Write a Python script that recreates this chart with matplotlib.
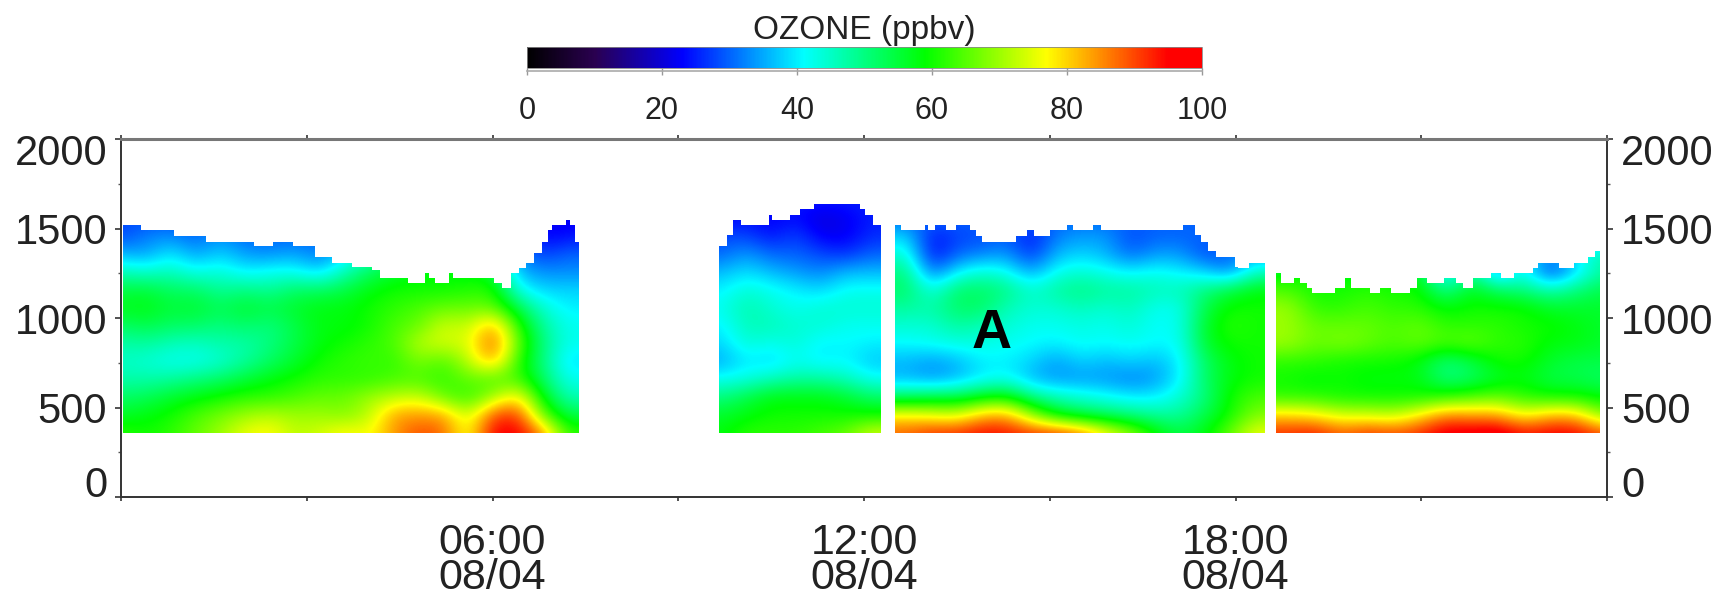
import numpy as np
import matplotlib
matplotlib.use("Agg")
import matplotlib.pyplot as plt
from matplotlib.colors import LinearSegmentedColormap, Normalize
from matplotlib.cm import ScalarMappable
from matplotlib.patches import Polygon
from matplotlib.lines import Line2D
from matplotlib.transforms import ScaledTranslation

plt.rcParams['font.family'] = ['Liberation Sans', 'DejaVu Sans']

BASE_ALT = 355
ROW_LOW = 310
ROW_HIGH = 1710

# each block: rows go 1660 m (top) down to 360 m in 100 m steps
seg1_start, seg1_step = 0.0, 0.4
seg1_edges = [0.03, 0.33, 0.70, 0.86, 1.37, 2.14, 2.45, 2.77, 3.13, 3.41, 3.73, 4.05, 4.18, 4.63, 4.91, 4.98,
              5.07, 5.30, 5.36, 6.03, 6.16, 6.30, 6.42, 6.54, 6.67, 6.80, 6.90, 6.96, 7.18, 7.25, 7.34, 7.40]
seg1_tops = [1520, 1493, 1493, 1460, 1427, 1400, 1427, 1400, 1343, 1310, 1287, 1269, 1222, 1194, 1250,
             1222, 1194, 1250, 1222, 1194, 1166, 1250, 1278, 1310, 1362, 1427, 1493, 1520, 1549, 1520, 1427]
seg1_ozone = [
    [30, 30, 30, 30, 30, 30, 30, 30, 30, 30, 30, 30, 30, 30, 30, 30, 30, 24, 24],
    [28, 28, 28, 28, 28, 28, 28, 28, 28, 28, 28, 28, 28, 28, 28, 28, 28, 22, 22],
    [28, 32, 33, 30, 34, 30, 30, 30, 30, 35, 40, 45, 50, 52, 50, 45, 30, 22, 24],
    [36, 34, 40, 34, 38, 34, 33, 35, 31, 38, 45, 50, 54, 56, 56, 50, 32, 27, 30],
    [46, 44, 46, 42, 44, 40, 42, 42, 38, 46, 52, 56, 58, 58, 58, 56, 36, 33, 33],
    [54, 55, 52, 52, 48, 50, 48, 52, 52, 54, 58, 60, 60, 60, 61, 62, 42, 38, 38],
    [57, 58, 55, 56, 53, 56, 54, 56, 58, 58, 60, 62, 64, 66, 66, 66, 54, 44, 40],
    [52, 54, 52, 52, 50, 52, 50, 54, 58, 58, 60, 64, 66, 74, 72, 84, 62, 48, 42],
    [47, 48, 46, 45, 47, 47, 50, 54, 58, 60, 62, 64, 72, 74, 74, 90, 66, 50, 42],
    [45, 44, 42, 42, 44, 48, 52, 56, 60, 62, 63, 62, 68, 64, 72, 84, 62, 50, 39],
    [47, 47, 48, 50, 52, 55, 58, 60, 62, 62, 62, 64, 64, 62, 66, 64, 64, 52, 42],
    [52, 53, 56, 58, 60, 62, 62, 64, 66, 66, 70, 72, 74, 66, 62, 70, 80, 58, 46],
    [56, 58, 60, 64, 67, 70, 72, 70, 70, 68, 72, 84, 84, 84, 72, 90, 92, 66, 54],
    [62, 60, 62, 66, 70, 76, 78, 72, 74, 78, 76, 84, 90, 88, 74, 96, 96, 86, 62],
]

seg2_start, seg2_step = 9.7, 0.4
seg2_edges = [9.66, 9.79, 9.88, 10.01, 10.46, 10.52, 10.81, 10.97, 11.19, 11.93, 12.02, 12.15, 12.28]
seg2_tops = [1400, 1465, 1549, 1520, 1577, 1549, 1577, 1608, 1638, 1608, 1577, 1520]
seg2_ozone = [
    [25, 25, 25, 25, 25, 25, 25],
    [22, 24, 22, 24, 20, 22, 25],
    [28, 28, 24, 28, 22, 22, 26],
    [30, 34, 30, 30, 28, 26, 30],
    [36, 39, 36, 34, 32, 36, 36],
    [40, 44, 42, 40, 38, 42, 42],
    [42, 47, 44, 42, 44, 44, 44],
    [40, 46, 46, 44, 44, 42, 42],
    [38, 44, 42, 44, 40, 41, 40],
    [35, 40, 38, 42, 40, 41, 37],
    [42, 43, 46, 48, 48, 46, 42],
    [50, 54, 58, 58, 58, 56, 52],
    [56, 58, 60, 60, 60, 60, 60],
    [58, 62, 62, 62, 64, 66, 74],
]

seg3_start, seg3_step = 12.7, 0.4
seg3_edges = [12.50, 12.60, 12.98, 13.04, 13.14, 13.33, 13.49, 13.71, 13.81, 13.91, 14.45, 14.64, 14.74, 14.80,
              15.00, 15.28, 15.37, 15.70, 15.82, 17.16, 17.34, 17.45, 17.56, 17.68, 17.99, 18.04, 18.21, 18.48]
seg3_tops = [1520, 1493, 1520, 1493, 1520, 1493, 1520, 1493, 1460, 1427, 1460, 1493, 1460, 1460, 1493,
             1520, 1493, 1520, 1493, 1520, 1465, 1427, 1372, 1343, 1287, 1278, 1310]
seg3_ozone = [
    [30, 30, 30, 30, 30, 30, 30, 30, 30, 30, 30, 30, 30, 30, 30],
    [30, 30, 30, 30, 30, 30, 30, 30, 30, 30, 30, 30, 30, 30, 30],
    [38, 24, 28, 28, 30, 24, 32, 34, 34, 28, 30, 30, 30, 30, 30],
    [44, 23, 30, 32, 34, 26, 36, 38, 36, 30, 34, 34, 28, 30, 34],
    [50, 30, 40, 44, 42, 34, 42, 44, 42, 40, 42, 40, 38, 32, 45],
    [52, 42, 52, 52, 50, 44, 48, 50, 48, 48, 46, 46, 50, 54, 58],
    [48, 47, 52, 52, 46, 44, 44, 46, 44, 46, 42, 42, 54, 60, 60],
    [44, 44, 48, 46, 44, 42, 42, 43, 42, 44, 41, 42, 56, 62, 60],
    [41, 42, 43, 43, 42, 41, 40, 42, 41, 42, 41, 41, 56, 60, 60],
    [36, 34, 36, 40, 40, 38, 34, 38, 36, 38, 36, 40, 52, 58, 60],
    [36, 34, 36, 40, 42, 36, 34, 34, 34, 32, 34, 40, 52, 58, 60],
    [52, 54, 54, 58, 60, 50, 46, 44, 42, 40, 40, 44, 50, 60, 64],
    [78, 76, 74, 82, 84, 70, 58, 54, 52, 50, 48, 48, 54, 60, 68],
    [88, 92, 92, 95, 94, 92, 92, 88, 78, 70, 60, 54, 58, 66, 76],
]

seg4_start, seg4_step = 18.86, 0.42
seg4_edges = [18.65, 18.74, 18.95, 19.04, 19.15, 19.23, 19.60, 19.77, 19.86, 20.17, 20.34, 20.51, 20.82, 20.93,
              21.10, 21.36, 21.56, 21.67, 21.84, 22.12, 22.29, 22.49, 22.80, 22.89, 23.03, 23.23, 23.46, 23.70,
              23.80, 23.89]
seg4_tops = [1250, 1194, 1222, 1194, 1166, 1138, 1166, 1222, 1166, 1138, 1166, 1138, 1166, 1222, 1194,
             1222, 1194, 1166, 1222, 1250, 1222, 1250, 1278, 1310, 1310, 1278, 1310, 1343, 1372]
seg4_ozone = [
    [30, 30, 30, 30, 30, 30, 30, 30, 30, 30, 30, 30, 30],
    [30, 30, 30, 30, 30, 30, 30, 30, 30, 30, 30, 30, 30],
    [30, 30, 30, 30, 30, 30, 30, 30, 30, 30, 30, 30, 30],
    [42, 42, 42, 42, 42, 42, 42, 42, 40, 42, 32, 40, 48],
    [58, 60, 58, 58, 58, 58, 34, 52, 30, 45, 26, 38, 48],
    [64, 60, 60, 62, 60, 60, 48, 58, 52, 50, 46, 50, 54],
    [70, 62, 62, 64, 62, 62, 58, 60, 60, 60, 56, 56, 56],
    [70, 66, 66, 66, 64, 66, 62, 62, 62, 60, 60, 58, 56],
    [70, 66, 68, 66, 64, 66, 64, 66, 62, 62, 58, 58, 56],
    [62, 62, 60, 60, 60, 58, 50, 54, 60, 60, 56, 54, 54],
    [60, 58, 60, 58, 58, 58, 50, 52, 56, 58, 54, 54, 52],
    [62, 62, 60, 60, 60, 60, 62, 64, 66, 62, 60, 60, 58],
    [80, 78, 74, 74, 72, 78, 86, 84, 84, 76, 82, 82, 68],
    [92, 94, 88, 92, 90, 92, 98, 98, 100, 94, 96, 96, 90],
]

segments = [
    (seg1_start, seg1_step, seg1_edges, seg1_tops, seg1_ozone),
    (seg2_start, seg2_step, seg2_edges, seg2_tops, seg2_ozone),
    (seg3_start, seg3_step, seg3_edges, seg3_tops, seg3_ozone),
    (seg4_start, seg4_step, seg4_edges, seg4_tops, seg4_ozone),
]

y_ticks = [0, 500, 1000, 1500, 2000]
y_minor = [250, 750, 1250, 1750]
x_ticks = [0, 3, 6, 9, 12, 15, 18, 21, 24]
x_labels = ["", "", "06:00\n08/04", "", "12:00\n08/04", "", "18:00\n08/04", "", ""]
cbar_ticks = [0, 20, 40, 60, 80, 100]
cmap_stops = [0, 10, 23, 41, 59, 77, 95, 100]
cmap_colors = ["#000000", "#2a0050", "#0000ff", "#00ffff", "#00ff00", "#ffff00", "#ff0000", "#ff0000"]

W, H = 1730, 600
cmap = LinearSegmentedColormap.from_list("ozone", [(s / 100, c) for s, c in zip(cmap_stops, cmap_colors)], N=512)
norm = Normalize(0, 100)

fig = plt.figure(figsize=(W / 100, H / 100), dpi=100)
ax = fig.add_axes([121 / W, 1 - 497 / H, (1607 - 121) / W, 358 / H])

for start, step, edges, tops, ozone in segments:
    ozone = np.array(ozone, dtype=float)
    left = start - step / 2
    right = start + step * (ozone.shape[1] - 0.5)
    im = ax.imshow(ozone, cmap=cmap, norm=norm, aspect="auto", interpolation="bicubic",
                   interpolation_stage="data", extent=(left, right, ROW_LOW, ROW_HIGH))
    verts = [(edges[0], BASE_ALT)]
    for i in range(len(tops)):
        verts.append((edges[i], tops[i]))
        verts.append((edges[i + 1], tops[i]))
    verts.append((edges[-1], BASE_ALT))
    im.set_clip_path(Polygon(verts, closed=True, transform=ax.transData))

ax.set_xlim(0, 24)
ax.set_ylim(0, 2000)

ax.set_yticks(y_ticks)
ax.set_yticks(y_minor, minor=True)
ax.set_xticks(x_ticks)
ax.set_xticklabels(x_labels, linespacing=0.84)
ax.tick_params(axis="x", which="major", direction="out", length=3, width=1.2, top=True, color="#333333",
               labelsize=31, pad=16, labelcolor="#222222")
ax.tick_params(axis="y", which="major", direction="out", length=4, width=1.2, left=True, right=True,
               labelleft=True, labelright=True, labelsize=30, pad=6, color="#333333", labelcolor="#222222")
ax.tick_params(axis="y", which="minor", direction="out", length=2, width=1, left=True, right=True, color="#555555")
for name in ax.spines:
    ax.spines[name].set_linewidth(1.4)
    ax.spines[name].set_color("#333333")
ax.spines["top"].set_linewidth(2.2)
ax.spines["top"].set_color("#777777")

# end labels sit inside the axis range, like the original
y_major = ax.yaxis.get_major_ticks()
nudge = ScaledTranslation(0, 5 / 100, fig.dpi_scale_trans)
for lab in [y_major[0].label1, y_major[0].label2]:
    lab.set_verticalalignment("baseline")
for lab in [y_major[-1].label1, y_major[-1].label2]:
    lab.set_verticalalignment("top")
    lab.set_transform(lab.get_transform() + nudge)

ax.text(14.07, 835, "A", fontsize=40, fontweight="bold", ha="center", va="baseline", color="black")

# colour bar on top
cax = fig.add_axes([527 / W, 1 - 68 / H, 675 / W, 21 / H])
cb = fig.colorbar(ScalarMappable(norm=norm, cmap=cmap), cax=cax, orientation="horizontal", ticks=cbar_ticks)
cb.outline.set_edgecolor("#888888")
cb.outline.set_linewidth(0.6)
cax.tick_params(axis="x", direction="out", length=5, width=1, color="#999999", labelsize=22, pad=15,
                labelcolor="#222222")
fig.add_artist(Line2D([527 / W, 1202 / W], [1 - 71 / H, 1 - 71 / H], color="#aaaaaa", lw=1.2))
fig.text(864 / W, 1 - 30 / H, "OZONE (ppbv)", fontsize=24, ha="center", va="center", color="#222222")

fig.savefig("out.png", dpi=100)
